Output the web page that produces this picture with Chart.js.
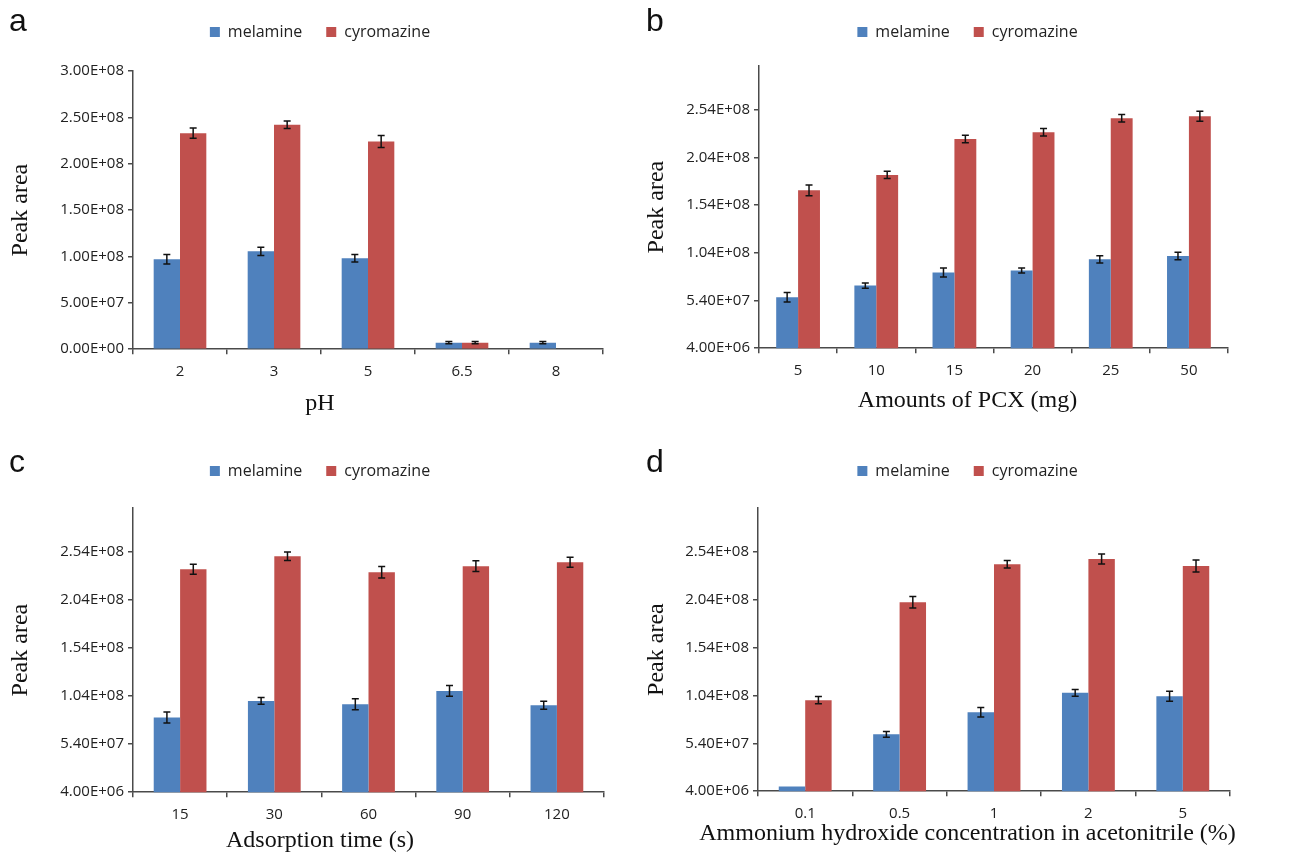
<!DOCTYPE html>
<html>
<head>
<meta charset="utf-8">
<script src="https://cdn.jsdelivr.net/npm/chart.js@4.4.1/dist/chart.umd.min.js"></script>
<style>
  html, body { margin: 0; padding: 0; background: #fff; }
  #wrap { position: relative; width: 1295px; height: 858px; overflow: hidden; }
  .panel { position: absolute; }
  .tag { position: absolute; font-family: 'Liberation Sans', Arial, sans-serif; font-size: 32px; line-height: 32px; color: #111; }
</style>
</head>
<body>
<div id="wrap">
  <div class="panel" style="left:0;top:0"><canvas id="ca" width="640" height="429"></canvas></div>
  <div class="panel" style="left:640px;top:0"><canvas id="cb" width="655" height="429"></canvas></div>
  <div class="panel" style="left:0;top:439px"><canvas id="cc" width="640" height="419"></canvas></div>
  <div class="panel" style="left:640px;top:439px"><canvas id="cd" width="655" height="419"></canvas></div>
  <div class="tag" style="left:9px;top:4px">a</div>
  <div class="tag" style="left:646px;top:4px">b</div>
  <div class="tag" style="left:9px;top:445px">c</div>
  <div class="tag" style="left:646px;top:445px">d</div>
</div>
<script>
const seriesNames = ['melamine', 'cyromazine'];

// a: pH
const phLabels = ['2', '3', '5', '6.5', '8'];
const phMelamine = [0.97e8, 1.055e8, 0.98e8, 0.07e8, 0.07e8];
const phMelamineErr = [0.05e8, 0.045e8, 0.04e8, 0.012e8, 0.012e8];
const phCyromazine = [2.33e8, 2.42e8, 2.24e8, 0.07e8, null];
const phCyromazineErr = [0.055e8, 0.04e8, 0.065e8, 0.012e8, null];

// b: amounts of PCX
const pcxLabels = ['5', '10', '15', '20', '25', '50'];
const pcxMelamine = [57.5e6, 69.7e6, 83.4e6, 85.6e6, 97.2e6, 100.7e6];
const pcxMelamineErr = [5e6, 2.8e6, 4.7e6, 2.6e6, 3.9e6, 3.9e6];
const pcxCyromazine = [169.6e6, 185.8e6, 223.4e6, 230.5e6, 245.2e6, 247.3e6];
const pcxCyromazineErr = [5.6e6, 3.9e6, 3.9e6, 3.9e6, 4e6, 5.3e6];

// c: adsorption time
const timeLabels = ['15', '30', '60', '90', '120'];
const timeMelamine = [81.8e6, 99.1e6, 95.7e6, 109.5e6, 94.6e6];
const timeMelamineErr = [5.6e6, 3.5e6, 5.7e6, 5.6e6, 4.2e6];
const timeCyromazine = [236.3e6, 249.8e6, 233.2e6, 239.4e6, 243.6e6];
const timeCyromazineErr = [5.2e6, 4.5e6, 6e6, 5.6e6, 5.2e6];

// d: ammonium hydroxide
const nh4Labels = ['0.1', '0.5', '1', '2', '5'];
const nh4Melamine = [8.9e6, 63.4e6, 86.6e6, 106.8e6, 103.3e6];
const nh4MelamineErr = [null, 3e6, 5e6, 3.5e6, 5.2e6];
const nh4Cyromazine = [99.1e6, 201.6e6, 241.2e6, 246.7e6, 239.4e6];
const nh4CyromazineErr = [3.8e6, 6e6, 3.8e6, 5.2e6, 6.2e6];

const phTicks = [0, 5e7, 1e8, 1.5e8, 2e8, 2.5e8, 3e8];
const peakTicks = [4e6, 5.4e7, 1.04e8, 1.54e8, 2.04e8, 2.54e8];

const BLUE = '#4F81BD';
const RED = '#C0504D';
const AXIS = '#4a4a4a';

function sci(v) {
  const [m, e] = Number(v).toExponential(2).split('e');
  const sign = e[0] === '-' ? '-' : '+';
  return m + 'E' + sign + e.replace(/[+-]/, '').padStart(2, '0');
}

// error bars drawn on top of the bars
const errorBars = {
  id: 'errorBars',
  afterDatasetsDraw(chart) {
    const ctx = chart.ctx;
    const y = chart.scales.y;
    ctx.save();
    ctx.strokeStyle = '#111';
    ctx.lineWidth = 1.5;
    chart.data.datasets.forEach((ds, d) => {
      const meta = chart.getDatasetMeta(d);
      meta.data.forEach((bar, i) => {
        const v = ds.data[i], e = ds.errors[i];
        if (v == null || e == null) return;
        const t = y.getPixelForValue(v + e), b = y.getPixelForValue(v - e);
        ctx.beginPath();
        ctx.moveTo(bar.x, t); ctx.lineTo(bar.x, b);
        ctx.moveTo(bar.x - 3.5, t); ctx.lineTo(bar.x + 3.5, t);
        ctx.moveTo(bar.x - 3.5, b); ctx.lineTo(bar.x + 3.5, b);
        ctx.stroke();
      });
    });
    ctx.restore();
  }
};

// force the legend block to a set height so the plot top lands where it should
const legendHeight = {
  id: 'legendHeight',
  beforeLayout(chart, args, opts) {
    const lg = chart.legend;
    if (lg && !lg._fixed) {
      const fit = lg.fit.bind(lg);
      lg.fit = function () { fit(); this.height = opts.height; };
      lg._fixed = true;
    }
  }
};

function makePanel(id, labels, mel, melErr, cyr, cyrErr, o) {
  new Chart(document.getElementById(id), {
    type: 'bar',
    data: {
      labels: labels,
      datasets: [
        { label: seriesNames[0], data: mel, errors: melErr, backgroundColor: BLUE },
        { label: seriesNames[1], data: cyr, errors: cyrErr, backgroundColor: RED }
      ]
    },
    options: {
      responsive: false,
      animation: false,
      layout: { padding: 0 },
      datasets: { bar: { categoryPercentage: 0.56, barPercentage: 1.0 } },
      scales: {
        x: {
          offset: true,
          grid: { offset: true, drawOnChartArea: false, tickLength: 5, color: AXIS, lineWidth: 1.5 },
          border: { color: AXIS, width: 1.5 },
          ticks: { color: '#222', font: { family: 'Open Sans', size: 15 }, padding: 9 },
          afterFit: s => { s.height = o.xHeight; }
        },
        y: {
          min: o.yMin,
          max: o.yMax,
          afterBuildTicks: s => { s.ticks = o.yTicks.map(v => ({ value: v })); },
          grid: { drawOnChartArea: false, tickLength: 5, color: AXIS, lineWidth: 1.5 },
          border: { color: AXIS, width: 1.5 },
          ticks: { color: '#222', font: { family: 'Open Sans', size: 15 }, padding: 4, callback: v => sci(v) },
          title: {
            display: true, text: 'Peak area', color: '#111',
            font: { family: 'Liberation Serif', size: 24 }, padding: { top: o.yTitlePad, bottom: 0 }
          },
          afterFit: s => { s.width = o.yWidth; }
        },
        yr: {
          position: 'right',
          display: true,
          grid: { display: false, drawTicks: false },
          border: { display: false },
          ticks: { display: false },
          afterFit: s => { s.width = o.rightWidth; }
        }
      },
      plugins: {
        legend: {
          position: 'top',
          labels: {
            boxWidth: 10, boxHeight: 10, padding: 24, color: '#222',
            font: { family: 'Open Sans', size: 16 }
          }
        },
        legendHeight: { height: o.legendHeight },
        title: {
          display: true, position: 'bottom', text: o.xTitle, color: '#111',
          font: { family: 'Liberation Serif', size: 24, weight: 'normal' },
          padding: { top: 0, bottom: o.titleBottom }
        },
        tooltip: { enabled: false }
      }
    },
    plugins: [errorBars, legendHeight]
  });
}

makePanel('ca', phLabels, phMelamine, phMelamineErr, phCyromazine, phCyromazineErr, {
  yMin: 0, yMax: 3e8, yTicks: phTicks, xTitle: 'pH',
  yWidth: 133, rightWidth: 37, xHeight: 40, legendHeight: 71, titleBottom: 11, yTitlePad: 6
});
makePanel('cb', pcxLabels, pcxMelamine, pcxMelamineErr, pcxCyromazine, pcxCyromazineErr, {
  yMin: 4e6, yMax: 3e8, yTicks: peakTicks, xTitle: 'Amounts of PCX (mg)',
  yWidth: 119, rightWidth: 67, xHeight: 38, legendHeight: 66, titleBottom: 14, yTitlePad: 2
});
makePanel('cc', timeLabels, timeMelamine, timeMelamineErr, timeCyromazine, timeCyromazineErr, {
  yMin: 4e6, yMax: 3e8, yTicks: peakTicks, xTitle: 'Adsorption time (s)',
  yWidth: 133, rightWidth: 36, xHeight: 34, legendHeight: 69, titleBottom: 3, yTitlePad: 6
});
makePanel('cd', nh4Labels, nh4Melamine, nh4MelamineErr, nh4Cyromazine, nh4CyromazineErr, {
  yMin: 4e6, yMax: 3e8, yTicks: peakTicks, xTitle: 'Ammonium hydroxide concentration in acetonitrile (%)',
  yWidth: 118, rightWidth: 65, xHeight: 28, legendHeight: 69, titleBottom: 10, yTitlePad: 2
});
</script>
</body>
</html>
